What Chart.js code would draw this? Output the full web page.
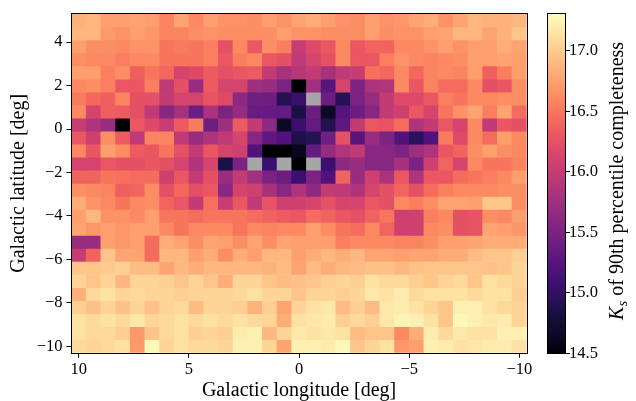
<!DOCTYPE html>
<html>
<head>
<meta charset="utf-8">
<script src="https://cdn.jsdelivr.net/npm/chart.js@4.4.0/dist/chart.umd.min.js"></script>
<style>
html, body { margin: 0; padding: 0; background: #fff; }
</style>
</head>
<body>
<canvas id="myChart" width="636" height="401"></canvas>
<script>
// bin centres (deg)
const lonCenters = [10, 9.333, 8.667, 8, 7.333, 6.667, 6, 5.333, 4.667, 4, 3.333, 2.667, 2, 1.333, 0.667, 0,
    -0.667, -1.333, -2, -2.667, -3.333, -4, -4.667, -5.333, -6, -6.667, -7.333, -8, -8.667, -9.333, -10];
const latCenters = [5, 4.4, 3.8, 3.2, 2.6, 2, 1.4, 0.8, 0.2, -0.4, -1, -1.6, -2.2, -2.8, -3.4, -4, -4.6,
    -5.2, -5.8, -6.4, -7, -7.6, -8.2, -8.8, -9.4, -10];

const lonTicks = [10, 5, 0, -5, -10];
const latTicks = [4, 2, 0, -2, -4, -6, -8, -10];
const cbTicks = [14.5, 15.0, 15.5, 16.0, 16.5, 17.0];
const vmin = 14.5, vmax = 17.3;

// Ks of 90th percentile completeness, one row per latitude bin (top to bottom), null = no data
const ksRow00 = [16.85,16.88,16.74,16.74,16.77,16.74,16.57,16.77,16.60,16.74,16.66,16.66,16.63,16.74,16.66,16.77,16.82,16.74,16.66,16.63,16.74,16.66,16.68,16.77,16.82,16.66,16.77,16.88,16.85,16.85,16.88];
const ksRow01 = [16.88,16.88,16.71,16.66,16.74,16.68,16.57,16.57,16.63,16.66,16.63,16.63,16.63,16.63,16.74,16.66,16.66,16.63,16.63,16.63,16.74,16.63,16.66,16.66,16.74,16.77,16.88,16.88,16.77,16.85,16.96];
const ksRow02 = [16.74,16.63,16.63,16.60,16.66,16.66,16.49,16.52,16.49,16.54,16.24,16.60,16.29,16.63,16.54,16.01,16.18,16.29,16.60,16.29,16.38,16.38,16.60,16.60,16.66,16.74,16.66,16.74,16.74,16.82,16.77];
const ksRow03 = [16.63,16.60,16.60,16.54,16.60,16.60,16.49,16.49,16.49,16.54,16.29,16.54,16.60,16.29,16.24,15.96,16.12,16.24,16.60,16.29,16.29,16.54,16.66,16.60,16.57,16.60,16.63,16.74,16.74,16.77,16.74];
const ksRow04 = [16.74,16.74,16.54,16.63,16.35,16.49,16.40,16.12,16.18,16.32,16.24,16.29,16.32,15.98,15.79,15.90,15.98,15.79,15.96,16.01,16.46,16.40,16.60,16.40,16.57,16.60,16.57,16.74,16.35,16.54,16.74];
const ksRow05 = [16.60,16.63,16.54,16.29,16.29,16.54,15.96,16.24,15.70,16.32,16.12,16.12,15.73,15.70,15.51,14.50,15.76,15.26,16.12,15.51,15.82,15.87,16.60,16.29,16.57,16.43,16.43,16.60,16.24,16.29,16.63];
const ksRow06 = [16.52,16.40,16.35,16.57,16.24,16.24,15.98,16.12,16.12,16.26,16.18,15.62,15.42,15.40,14.92,15.06,null,15.40,14.92,15.51,15.68,15.98,16.18,16.18,16.29,16.54,16.49,16.60,16.60,16.63,16.63];
const ksRow07 = [16.60,16.12,16.35,16.32,16.24,15.96,15.59,15.79,15.40,15.82,15.51,15.68,15.37,15.34,15.34,14.84,15.40,14.64,15.23,15.40,15.59,15.98,16.07,16.29,16.12,16.49,16.66,16.77,16.54,16.77,16.43];
const ksRow08 = [16.01,15.84,15.70,14.50,16.29,16.18,16.01,16.32,16.52,15.40,15.73,16.32,15.98,15.62,14.64,15.06,15.34,14.89,15.31,15.98,16.29,16.26,16.43,15.84,15.98,16.29,16.12,16.60,15.96,16.29,16.24];
const ksRow09 = [16.29,16.07,16.63,16.32,15.96,16.57,16.57,15.96,15.70,15.84,15.96,16.12,15.59,15.31,15.20,14.86,14.92,15.42,16.24,15.26,15.70,15.51,15.20,14.95,15.20,16.52,16.18,16.60,16.43,16.74,16.60];
const ksRow10 = [16.60,16.29,16.74,16.63,16.32,16.29,16.49,16.24,15.98,16.29,16.12,16.07,15.20,14.50,14.50,14.61,15.34,15.68,15.87,15.96,15.59,15.59,15.51,15.73,15.84,16.29,16.38,16.63,16.74,16.63,16.60];
const ksRow11 = [16.12,16.12,16.29,16.24,16.24,16.29,16.24,16.12,15.84,16.12,14.84,15.51,null,15.06,null,14.50,null,15.06,15.62,15.70,15.59,15.59,15.79,15.51,16.07,16.38,16.12,16.60,16.49,16.49,16.57];
const ksRow12 = [16.38,16.38,16.49,16.46,16.43,16.43,16.07,16.29,15.98,16.24,15.70,15.98,15.76,15.51,15.40,15.06,15.51,15.20,16.38,15.70,16.07,15.82,16.29,15.84,16.29,16.29,16.43,16.49,16.54,16.60,16.74];
const ksRow13 = [16.63,16.60,16.57,16.35,16.38,16.63,16.24,16.40,16.24,16.29,15.59,16.12,16.07,15.79,15.59,15.84,15.62,15.98,15.96,15.84,16.12,16.24,16.38,16.24,16.43,16.54,16.60,16.60,16.60,16.63,16.63];
const ksRow14 = [16.82,16.66,16.60,16.49,16.60,16.63,16.38,16.29,15.98,16.46,16.01,16.29,15.96,16.26,16.07,16.07,16.12,16.24,16.12,16.12,16.29,16.24,16.60,16.54,16.63,16.77,16.77,16.74,16.96,16.96,16.63];
const ksRow15 = [16.74,16.88,16.66,16.66,16.60,16.74,16.49,16.49,16.43,16.49,16.49,16.49,16.43,16.38,16.32,16.29,16.43,16.38,16.29,16.24,16.38,16.49,16.07,16.07,16.54,16.60,16.24,16.26,16.63,16.60,16.74];
const ksRow16 = [16.77,16.68,16.74,16.68,16.74,16.74,16.60,16.49,16.60,16.60,16.60,16.49,16.60,16.57,16.60,16.60,16.74,16.63,16.49,16.43,16.60,16.38,16.07,16.07,16.60,16.63,16.24,16.26,16.77,16.74,16.68];
const ksRow17 = [15.70,15.70,16.74,16.68,16.74,16.43,16.82,16.77,16.63,16.77,16.74,16.63,16.77,16.63,16.77,16.74,16.74,16.74,16.54,16.60,16.60,16.60,16.57,16.57,16.63,16.74,16.74,16.77,16.82,16.82,16.82];
const ksRow18 = [16.01,16.38,16.96,16.77,16.77,16.43,16.88,16.88,16.74,16.82,16.63,16.82,16.74,16.88,16.88,16.74,16.82,16.88,16.82,16.88,16.77,16.77,16.74,16.77,16.77,16.82,16.82,16.91,16.96,16.96,17.02];
const ksRow19 = [16.96,16.96,16.99,17.02,16.91,16.91,16.77,16.88,16.82,16.88,16.88,16.88,16.88,16.85,16.91,16.77,16.91,16.82,16.88,16.91,16.94,16.94,16.88,16.94,16.96,16.96,16.96,16.96,16.94,16.96,17.05];
const ksRow20 = [17.05,16.96,17.05,16.88,17.05,17.05,17.02,16.96,17.05,16.96,16.82,17.05,17.05,16.96,16.91,16.94,16.96,17.02,17.05,17.02,17.13,17.08,17.08,17.02,16.96,17.05,17.08,16.96,17.13,17.08,17.05];
const ksRow21 = [16.85,17.08,17.13,17.05,17.08,17.05,17.05,17.02,17.05,17.05,17.05,17.08,17.13,17.05,17.05,16.96,17.05,17.05,17.02,17.05,17.16,17.13,17.19,17.08,17.13,17.13,17.13,17.08,17.13,17.13,17.02];
const ksRow22 = [17.02,16.94,17.05,16.94,17.05,16.94,17.05,17.08,16.91,17.05,17.05,17.02,16.85,17.02,16.77,17.05,17.13,17.16,16.91,17.02,16.91,17.16,17.19,17.13,17.05,16.96,17.22,17.22,17.13,17.08,17.05];
const ksRow23 = [17.13,17.08,17.13,17.08,17.16,17.05,17.08,17.13,17.08,17.13,17.08,17.13,17.08,17.05,16.82,17.13,17.16,17.19,17.02,17.08,17.02,17.16,17.24,17.22,17.13,16.96,17.27,17.22,17.16,17.19,17.05];
const ksRow24 = [17.13,17.08,17.08,17.02,16.71,16.96,17.08,17.13,17.02,17.05,17.02,17.19,17.22,16.88,17.05,17.16,17.13,17.16,17.13,16.91,16.96,16.96,16.60,16.82,17.19,17.08,17.16,17.13,17.13,17.22,17.22];
const ksRow25 = [17.08,17.05,17.08,17.13,16.71,17.27,17.05,17.13,17.08,17.08,17.05,17.22,17.22,17.05,16.77,17.22,17.22,17.19,17.27,16.96,17.05,17.13,16.68,16.74,17.22,17.19,17.13,17.16,17.19,17.19,17.13];

const ksRows = [ksRow00, ksRow01, ksRow02, ksRow03, ksRow04, ksRow05, ksRow06, ksRow07, ksRow08, ksRow09,
    ksRow10, ksRow11, ksRow12, ksRow13, ksRow14, ksRow15, ksRow16, ksRow17, ksRow18, ksRow19,
    ksRow20, ksRow21, ksRow22, ksRow23, ksRow24, ksRow25];

// magma colormap
const magma = ['#000004', '#0c0926', '#140e36', '#251255', '#3b0f70', '#51127c', '#641a80', '#782281',
    '#8c2981', '#a1307e', '#b73779', '#ca3e72', '#de4968', '#ed5a5f', '#f7705c', '#fc8961',
    '#fe9f6d', '#feb77e', '#fecf92', '#fde7a9', '#fcfdbf'];
const badColor = '#a6a6a6';
const FONT = '"Liberation Serif", "Times New Roman", serif';

function hexRgb(h) {
    return [parseInt(h.substr(1, 2), 16), parseInt(h.substr(3, 2), 16), parseInt(h.substr(5, 2), 16)];
}

function colorFor(v) {
    if (v === null || v === undefined) return badColor;
    let t = (v - vmin) / (vmax - vmin);
    t = Math.max(0, Math.min(1, t)) * (magma.length - 1);
    const i = Math.min(Math.floor(t), magma.length - 2);
    const f = t - i;
    const a = hexRgb(magma[i]), b = hexRgb(magma[i + 1]);
    const c = a.map((x, k) => Math.round(x + (b[k] - x) * f));
    return 'rgb(' + c.join(',') + ')';
}

const minus = v => String(v).replace('-', '\u2212');
const dLat = Math.abs(latCenters[0] - latCenters[1]);

const datasets = ksRows.map((row, i) => ({
    data: row.map((v, j) => ({
        x: lonCenters[j],
        y: [latCenters[i] - dLat / 2, latCenters[i] + dLat / 2],
        v: v
    })),
    backgroundColor: (c) => colorFor(c.raw ? c.raw.v : null),
    borderWidth: 0,
    grouped: false,
    barPercentage: 1,
    categoryPercentage: 1
}));

// frame + colorbar
const extras = {
    id: 'extras',
    afterDatasetsDraw(chart) {
        const {ctx, chartArea: a} = chart;
        ctx.save();
        ctx.strokeStyle = '#000';
        ctx.lineWidth = 1;
        ctx.strokeRect(Math.round(a.left) - 0.5, Math.round(a.top) - 0.5,
            Math.round(a.right) - Math.round(a.left) + 1, Math.round(a.bottom) - Math.round(a.top) + 1);
        ctx.restore();
    },
    afterDraw(chart) {
        const {ctx, chartArea: a} = chart;
        const x0 = 547.5, x1 = 565.5;
        const top = Math.round(a.top), bot = Math.round(a.bottom);
        ctx.save();
        const g = ctx.createLinearGradient(0, bot, 0, top);
        magma.forEach((c, i) => g.addColorStop(i / (magma.length - 1), c));
        ctx.fillStyle = g;
        ctx.fillRect(x0, top, x1 - x0, bot - top);
        ctx.strokeStyle = '#000';
        ctx.lineWidth = 1;
        ctx.strokeRect(x0, top - 0.5, x1 - x0, bot - top + 1);

        ctx.fillStyle = '#000';
        ctx.font = '16.5px ' + FONT;
        ctx.textAlign = 'left';
        ctx.textBaseline = 'middle';
        cbTicks.forEach(v => {
            const y = Math.round(bot - (v - vmin) / (vmax - vmin) * (bot - top)) + 0.5;
            ctx.beginPath();
            ctx.moveTo(x1, y);
            ctx.lineTo(x1 + 4.5, y);
            ctx.stroke();
            ctx.fillText(v.toFixed(1), x1 + 3.5, y);
        });

        // colorbar label
        ctx.translate(623, 320);
        ctx.rotate(-Math.PI / 2);
        ctx.textBaseline = 'alphabetic';
        ctx.font = 'italic 20px ' + FONT;
        ctx.fillText('K', 0, 0);
        let w = ctx.measureText('K').width;
        ctx.font = 'italic 14px ' + FONT;
        ctx.fillText('s', w + 0.5, 4);
        w += ctx.measureText('s').width + 0.5;
        ctx.font = '20px ' + FONT;
        ctx.fillText(' of 90th percentile completeness', w, 0);
        ctx.restore();
    }
};

const axisCommon = {
    type: 'linear',
    offset: false,
    grid: {display: true, offset: false, drawOnChartArea: false, drawTicks: true, tickLength: 5, tickColor: '#000', tickWidth: 1},
    border: {display: false},
    ticks: {color: '#000', font: {family: FONT, size: 16.5}, maxRotation: 0, autoSkip: false, callback: minus}
};

var ctx = document.getElementById('myChart');
var myChart = new Chart(ctx, {
    type: 'bar',
    data: {datasets: datasets},
    options: {
        responsive: false,
        devicePixelRatio: 1,
        animation: false,
        layout: {padding: {left: 0, right: 109.3, top: 9.5, bottom: 0}},
        plugins: {legend: {display: false}, tooltip: {enabled: false}},
        scales: {
            x: Object.assign({}, axisCommon, {
                reverse: true,
                min: -10.333,
                max: 10.333,
                ticks: Object.assign({}, axisCommon.ticks, {padding: 2}),
                afterBuildTicks: s => { s.ticks = lonTicks.map(v => ({value: v})); },
                afterFit: s => { s.height = 48.3; },
                title: {display: true, text: 'Galactic longitude [deg]', color: '#000',
                    font: {family: FONT, size: 20, lineHeight: 1}, padding: {top: 0, bottom: 0}}
            }),
            y: Object.assign({}, axisCommon, {
                min: -10.3,
                max: 5.3,
                ticks: Object.assign({}, axisCommon.ticks, {padding: 4}),
                afterBuildTicks: s => { s.ticks = latTicks.map(v => ({value: v})); },
                afterFit: s => { s.width = 71.5; },
                title: {display: true, text: 'Galactic latitude [deg]', color: '#000',
                    font: {family: FONT, size: 20, lineHeight: 1}, padding: {top: 8.5, bottom: 0}}
            })
        }
    },
    plugins: [extras]
});
</script>
</body>
</html>
